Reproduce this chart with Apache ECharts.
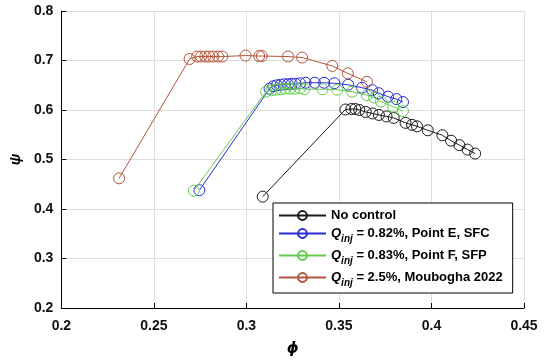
<!DOCTYPE html>
<html><head><meta charset="utf-8">
<script src="https://cdn.jsdelivr.net/npm/echarts@6/dist/echarts.min.js"></script>
<style>html,body{margin:0;padding:0;background:#fff}#c{width:550px;height:362px}</style>
</head><body><div id="c"></div>
<script>
var phiNoControl = [0.3088,0.3535,0.3567,0.3588,0.3610,0.3645,0.3681,0.3716,0.3757,0.3796,0.3860,0.3895,0.3922,0.3980,0.4059,0.4106,0.4151,0.4195,0.4236];
var psiNoControl = [0.425,0.601,0.602,0.602,0.600,0.596,0.593,0.590,0.587,0.584,0.574,0.570,0.567,0.559,0.549,0.538,0.529,0.520,0.512];

var phiSFC = [0.2746,0.3125,0.3145,0.3165,0.3185,0.3205,0.3225,0.3245,0.3265,0.3290,0.3320,0.3370,0.3420,0.3475,0.3550,0.3625,0.3680,0.3715,0.3765,0.3810,0.3846];
var psiSFC = [0.438,0.643,0.648,0.650,0.651,0.652,0.652,0.653,0.653,0.654,0.655,0.655,0.655,0.654,0.651,0.645,0.640,0.634,0.627,0.622,0.616];

var phiSFP = [0.2716,0.3106,0.3135,0.3160,0.3185,0.3210,0.3235,0.3260,0.3290,0.3313,0.3411,0.3491,0.3571,0.3651,0.3690,0.3727,0.3793,0.3846];
var psiSFP = [0.437,0.637,0.640,0.641,0.642,0.643,0.643,0.643,0.644,0.642,0.642,0.641,0.637,0.630,0.625,0.617,0.607,0.598];

var phiMoubogha = [0.2312,0.2693,0.2734,0.2755,0.2778,0.2799,0.2821,0.2847,0.2870,0.2995,0.3069,0.3083,0.3225,0.3301,0.3464,0.3548,0.3651];
var psiMoubogha = [0.462,0.703,0.708,0.708,0.708,0.708,0.708,0.708,0.708,0.710,0.709,0.709,0.708,0.706,0.689,0.674,0.657];

var seriesNames = ['No control','Q_inj = 0.82%, Point E, SFC','Q_inj = 0.83%, Point F, SFP','Q_inj = 2.5%, Moubogha 2022'];
var seriesColors = ['#1a1a1a','#2b2bd6','#62cc4c','#b4553c'];
var xTick = {min:0.2, max:0.45, interval:0.05};
var yTick = {min:0.2, max:0.8, interval:0.1};

function pairs(xs, ys){ return xs.map(function(x,i){return [x, ys[i]];}); }
var allData = [pairs(phiNoControl,psiNoControl), pairs(phiSFC,psiSFC), pairs(phiSFP,psiSFP), pairs(phiMoubogha,psiMoubogha)];

var font = 'Liberation Sans, Arial, sans-serif';
var chart = echarts.init(document.getElementById('c'));
chart.setOption({
  animation:false,
  backgroundColor:'#fff',
  grid:{left:54.7, right:26, top:11, bottom:54, containLabel:false},
  xAxis:{type:'value', min:xTick.min, max:xTick.max, interval:xTick.interval,
    name:'ϕ', nameLocation:'middle', nameGap:34,
    nameTextStyle:{fontFamily:'DejaVu Sans, Liberation Sans, sans-serif', fontWeight:'bold', fontStyle:'italic', fontSize:15, color:'#000'},
    axisLine:{show:true, onZero:false, lineStyle:{color:'#000', width:1}},
    axisTick:{show:true, inside:true, length:5, lineStyle:{color:'#000'}},
    axisLabel:{margin:11, fontFamily:font, fontWeight:'bold', fontSize:14, color:'#111'},
    splitLine:{show:true, lineStyle:{color:'#dedede', width:1}}},
  yAxis:{type:'value', min:yTick.min, max:yTick.max, interval:yTick.interval,
    name:'ψ', nameLocation:'middle', nameGap:38,
    nameTextStyle:{fontFamily:font, fontWeight:'bold', fontStyle:'italic', fontSize:15, color:'#000'},
    axisLine:{show:true, onZero:false, lineStyle:{color:'#000', width:1}},
    axisTick:{show:true, inside:true, length:5, lineStyle:{color:'#000'}},
    axisLabel:{margin:8, fontFamily:font, fontWeight:'bold', fontSize:14, color:'#111'},
    splitLine:{show:true, lineStyle:{color:'#dedede', width:1}}},
  legend:{orient:'vertical', left:273, top:203, itemWidth:47, itemHeight:11, itemGap:1,
    padding:[6,10,5,5], borderColor:'#000', borderWidth:1, backgroundColor:'#fff',
    data:seriesNames,
    textStyle:{fontFamily:font, fontWeight:'bold', fontSize:13, color:'#000', lineHeight:13,
      rich:{
        q:{fontFamily:font, fontWeight:'bold', fontStyle:'italic', fontSize:13, lineHeight:16, color:'#000'},
        s:{fontFamily:font, fontWeight:'bold', fontStyle:'italic', fontSize:10, lineHeight:11, color:'#000', padding:[11,0,0,0]},
        t:{fontFamily:font, fontWeight:'bold', fontSize:13, lineHeight:16, color:'#000'}
      }},
    formatter:function(n){
      if(n.indexOf('Q_inj')===0){ return '{q|Q}{s|inj}{t|' + n.slice(5) + '}'; }
      return n;
    }},
  series: allData.map(function(d,i){
    return {name:seriesNames[i], type:'line', data:d, symbol:'circle', symbolSize:11,
      showSymbol:true, z:2+i,
      lineStyle:{color:seriesColors[i], width:1},
      itemStyle:{color:'rgba(255,255,255,0)', borderColor:seriesColors[i], borderWidth:1}};
  })
});
</script></body></html>
